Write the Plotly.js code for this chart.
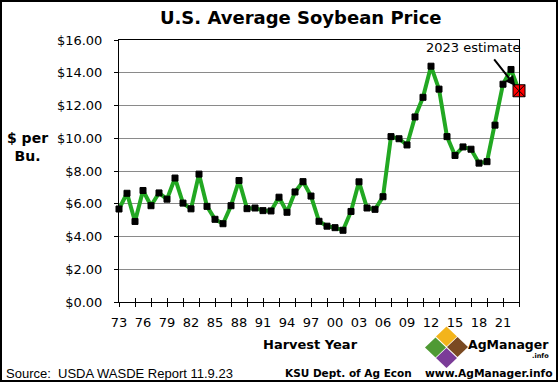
<!DOCTYPE html>
<html>
<head>
<meta charset="utf-8">
<script src="https://cdn.plot.ly/plotly-3.0.1.min.js"></script>
<style>
html,body{margin:0;padding:0;background:#fff;}
#chart{width:558px;height:382px;}
</style>
</head>
<body>
<div id="chart"></div>
<script>
// ---- data ----
const years = [1973,1974,1975,1976,1977,1978,1979,1980,1981,1982,1983,1984,1985,1986,1987,1988,1989,1990,1991,1992,1993,1994,1995,1996,1997,1998,1999,2000,2001,2002,2003,2004,2005,2006,2007,2008,2009,2010,2011,2012,2013,2014,2015,2016,2017,2018,2019,2020,2021,2022,2023];
const prices = [5.68,6.64,4.92,6.81,5.88,6.66,6.28,7.57,6.04,5.69,7.81,5.84,5.05,4.78,5.88,7.42,5.70,5.74,5.58,5.56,6.40,5.48,6.72,7.35,6.47,4.93,4.63,4.54,4.38,5.53,7.34,5.74,5.66,6.43,10.10,9.97,9.59,11.30,12.50,14.40,13.00,10.10,8.95,9.47,9.33,8.48,8.57,10.80,13.30,14.20,12.90];
const estimateYear = 2023;
const labelYears = [1973,1976,1979,1982,1985,1988,1991,1994,1997,2000,2003,2006,2009,2012,2015,2018,2021];
const labelText = labelYears.map(y => String(y % 100).padStart(2, '0'));
const yTickVals = [0,2,4,6,8,10,12,14,16];
const yTickText = yTickVals.map(v => '$' + v.toFixed(2));

// ---- geometry helpers (plot area in px) ----
const PL = 119, PR = 519, PT = 40, PB = 302;
const px = x => (x - PL) / (PR - PL);
const py = y => (PB - y) / (PB - PT);

const font = 'DejaVu Sans, Verdana, sans-serif';

const traces = [
  {
    x: years, y: prices, type: 'scatter', mode: 'lines+markers',
    line: {color: '#22a822', width: 4},
    marker: {
      symbol: years.map(y => y === estimateYear ? 'square-x' : 'square'),
      size: years.map(y => y === estimateYear ? 12 : 6),
      color: years.map(y => y === estimateYear ? '#ff0000' : '#000000'),
      opacity: 1,
      line: {color: '#000', width: 1}
    },
    cliponaxis: false, hoverinfo: 'skip', showlegend: false
  },
  {x: [], y: [], xaxis: 'x2', yaxis: 'y', showlegend: false},
  {x: [], y: [], xaxis: 'x3', yaxis: 'y', showlegend: false}
];

function diamond(cx, cy, hw, hh) {
  return `M ${px(cx - hw)},${py(cy)} L ${px(cx)},${py(cy - hh)} L ${px(cx + hw)},${py(cy)} L ${px(cx)},${py(cy + hh)} Z`;
}

const shapes = [
  {type: 'rect', xref: 'paper', yref: 'paper', x0: px(1), x1: px(557), y0: py(381), y1: py(1), line: {color: '#000', width: 2}},
  {type: 'path', xref: 'paper', yref: 'paper', path: diamond(446.5, 336.5, 10.5, 10), fillcolor: '#f3b41b', line: {width: 0}},
  {type: 'path', xref: 'paper', yref: 'paper', path: diamond(435.5, 347.5, 10.5, 10), fillcolor: '#4f9a34', line: {width: 0}},
  {type: 'path', xref: 'paper', yref: 'paper', path: diamond(457.5, 347, 10.5, 10), fillcolor: '#7a4a22', line: {width: 0}},
  {type: 'path', xref: 'paper', yref: 'paper', path: diamond(446.5, 358, 10.5, 10), fillcolor: '#7b3c98', line: {width: 0}}
];

const annotations = [
  {xref: 'paper', yref: 'paper', x: px(27.5), y: py(147), xanchor: 'center', yanchor: 'middle',
   text: '<b>$ per</b><br><b>Bu.</b>', showarrow: false, align: 'center',
   font: {family: font, size: 14, color: '#000'}},
  {xref: 'paper', yref: 'paper', x: px(310), y: py(344), xanchor: 'center', yanchor: 'middle',
   text: '<b>Harvest Year</b>', showarrow: false, font: {family: font, size: 13, color: '#000'}},
  {xref: 'paper', yref: 'paper', x: px(472.5), y: py(47.5), xanchor: 'center', yanchor: 'middle',
   text: '2023 estimate', showarrow: false, font: {family: font, size: 13, color: '#000'}},
  {x: estimateYear, y: prices[prices.length - 1], xref: 'x', yref: 'y', text: '', showarrow: true,
   ax: -26, ay: -33, arrowhead: 2, arrowsize: 1, arrowwidth: 2, arrowcolor: '#000', standoff: 6},
  {xref: 'paper', yref: 'paper', x: px(4), y: py(373), xanchor: 'left', yanchor: 'middle',
   text: 'Source:  USDA WASDE Report 11.9.23', showarrow: false,
   font: {family: 'Liberation Sans, Arial, sans-serif', size: 13, color: '#000'}},
  {xref: 'paper', yref: 'paper', x: px(348), y: py(373), xanchor: 'center', yanchor: 'middle',
   text: '<b>KSU Dept. of Ag Econ</b>', showarrow: false, font: {family: font, size: 10.5, color: '#000'}},
  {xref: 'paper', yref: 'paper', x: px(488.5), y: py(373), xanchor: 'center', yanchor: 'middle',
   text: '<b>www.AgManager.info</b>', showarrow: false, font: {family: font, size: 10.7, color: '#000'}},
  {xref: 'paper', yref: 'paper', x: px(508), y: py(345), xanchor: 'center', yanchor: 'middle',
   text: '<b>AgManager</b>', showarrow: false, font: {family: font, size: 12.5, color: '#000'}},
  {xref: 'paper', yref: 'paper', x: px(540), y: py(356), xanchor: 'center', yanchor: 'middle',
   text: '<b>.info</b>', showarrow: false, font: {family: font, size: 6.5, color: '#000'}}
];

const layout = {
  width: 558, height: 382,
  margin: {l: PL, r: 558 - PR, t: PT, b: 382 - PB, pad: 0},
  paper_bgcolor: '#fff', plot_bgcolor: '#fff',
  title: {text: '<b>U.S. Average Soybean Price</b>', x: 300.7 / 558, xanchor: 'center', xref: 'container',
          y: 1 - 18 / 382, yanchor: 'middle', yref: 'container',
          font: {family: font, size: 18, color: '#000'}},
  xaxis: {
    range: [years[0], years[years.length - 1]], tickmode: 'array', tickvals: labelYears, ticktext: labelText,
    ticks: '', showgrid: false, zeroline: false, showline: true, linecolor: '#000', linewidth: 1, mirror: true,
    tickfont: {family: font, size: 13, color: '#000'}, ticklabelstandoff: 8, fixedrange: true
  },
  xaxis2: {
    overlaying: 'x', anchor: 'y', side: 'bottom', matches: 'x',
    tickmode: 'linear', tick0: years[0], dtick: 2, ticks: 'outside', ticklen: 4, tickcolor: '#000', tickwidth: 1,
    showticklabels: false, showgrid: false, zeroline: false, showline: false
  },
  xaxis3: {
    overlaying: 'x', anchor: 'y', side: 'bottom', matches: 'x',
    tickmode: 'linear', tick0: years[0], dtick: 2, ticks: 'inside', ticklen: 4, tickcolor: '#000', tickwidth: 1,
    showticklabels: false, showgrid: false, zeroline: false, showline: false
  },
  yaxis: {
    range: [0, 16], tickmode: 'array', tickvals: yTickVals, ticktext: yTickText,
    ticks: 'outside', ticklen: 4, tickcolor: '#000', showgrid: true, gridcolor: '#8a8a8a', gridwidth: 1,
    zeroline: false, showline: true, linecolor: '#000', linewidth: 1, mirror: true,
    tickfont: {family: font, size: 13, color: '#000'}, ticklabelstandoff: 9, fixedrange: true
  },
  shapes: shapes,
  annotations: annotations,
  showlegend: false
};

Plotly.newPlot('chart', traces, layout, {staticPlot: true, displayModeBar: false});
</script>
</body>
</html>
